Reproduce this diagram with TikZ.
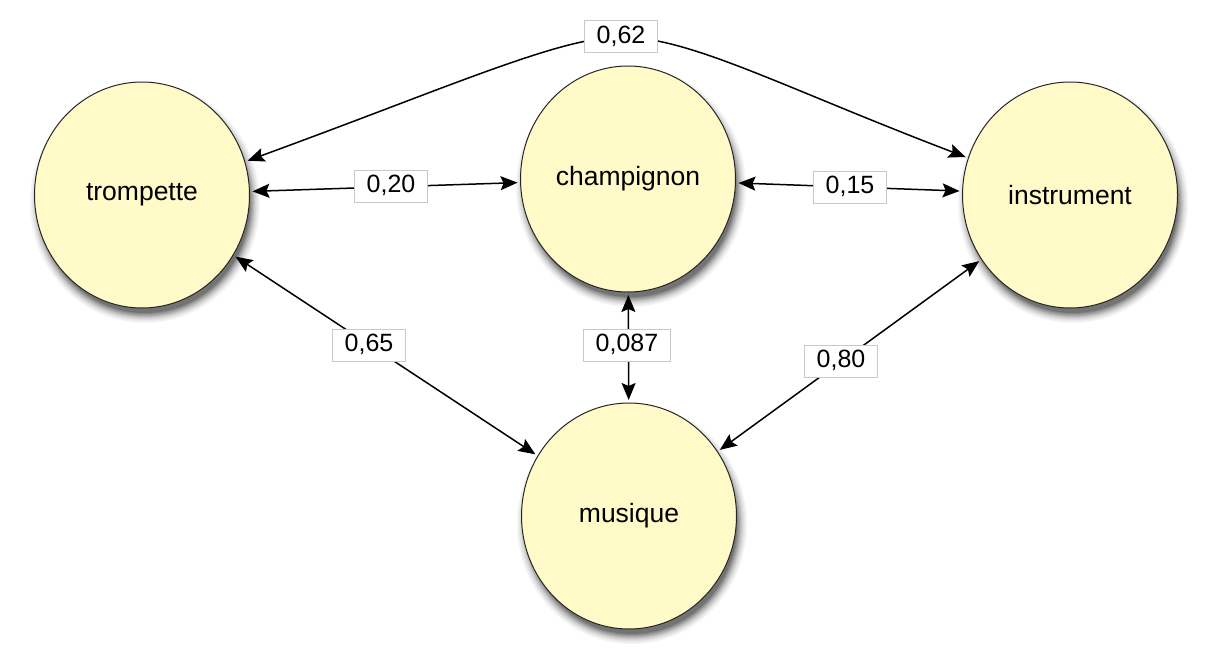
\documentclass[tikz,border=0pt]{standalone}
\usepackage{fontspec}
\setmainfont{Liberation Sans}
\usetikzlibrary{arrows.meta,shapes.geometric,calc}
\definecolor{nodefill}{RGB}{255,250,200}
\definecolor{labborder}{RGB}{200,200,200}
\begin{document}
\begin{tikzpicture}[x=1pt,y=-1pt,
  concept/.style={ellipse, minimum width=215pt, minimum height=226pt, inner sep=0pt,
    fill=nodefill, draw=black!85, line width=1pt, outer sep=3pt,
    font=\fontsize{26.5}{30}\selectfont},
  lab/.style={rectangle, fill=white, draw=labborder, line width=1pt, inner xsep=12pt, inner ysep=0pt,
    text height=18pt, text depth=5pt, minimum height=32pt, font=\fontsize{25}{30}\selectfont},
  link/.style={line width=1.5pt, {Stealth[length=17pt,width=14pt,inset=3pt]}-{Stealth[length=17pt,width=14pt,inset=3pt]}}
]
\useasboundingbox (0,0) rectangle (1209,661);

\coordinate (ct) at (142,195);
\coordinate (cc) at (628,179);
\coordinate (ci) at (1070,195);
\coordinate (cm) at (629,516);

% soft shadows under the circles
\foreach \ctr in {ct,cc,ci,cm}{
  \foreach \rr/\gg in {10/4,9/6,8/9,7/13,6/17,5/22,4/28,3/34,2/40,1/47,0/55}{
    \fill[color=black!\gg] ($(\ctr)+(3,8)$) ellipse [x radius=105pt+\rr pt, y radius=110pt+\rr pt];
  }
}

\node[concept] (trompette) at (ct) {trompette};
\node[concept] (champignon) at (cc) {champignon};
\node[concept] (instrument) at (ci) {instrument};
\node[concept] (musique) at (cm) {musique};

\coordinate (peak) at (621,37);

\draw[link] (trompette.18) .. controls (452,86) and (560,37) .. (peak)
  .. controls (690,37) and (782,87) .. (instrument.160);
\draw[link] (trompette) -- (champignon);
\draw[link] (champignon) -- (instrument);
\draw[link] (trompette) -- (musique);
\draw[link] (champignon) -- (musique);
\draw[link] (instrument) -- (musique);

\node[lab] (l62) at (peak) {0,62};
\node[lab] (l20) at (391,186) {0,20};
\node[lab] (l15) at (850,187) {0,15};
\node[lab] (l65) at (369,345) {0,65};
\node[lab] (l087) at (627,345) {0,087};
\node[lab] (l80) at (841,361) {0,80};
\end{tikzpicture}
\end{document}
